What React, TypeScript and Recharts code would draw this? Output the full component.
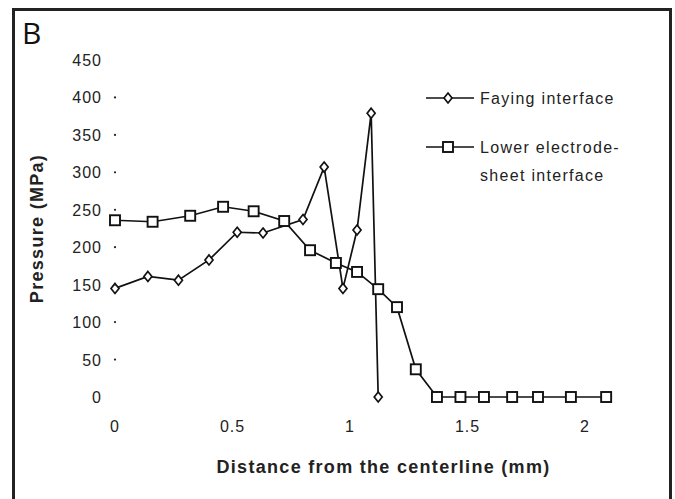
import { Line, LineChart, XAxis, YAxis } from "recharts";

// distance from the centerline (mm) and pressure (MPa)
const fayingX = [0, 0.14, 0.27, 0.4, 0.52, 0.63, 0.8, 0.89, 0.97, 1.03, 1.09, 1.12];
const fayingP = [145, 161, 156, 183, 220, 219, 237, 307, 145, 223, 379, 0];

const lowerX = [0, 0.16, 0.32, 0.46, 0.59, 0.72, 0.83, 0.94, 1.03, 1.12, 1.2, 1.28, 1.37, 1.47, 1.57, 1.69, 1.8, 1.94, 2.09];
const lowerP = [236, 234, 242, 254, 248, 235, 196, 179, 167, 144, 120, 37, 0, 0, 0, 0, 0, 0, 0];

const xTicks = [0, 0.5, 1, 1.5, 2];
const yTicks = [0, 50, 100, 150, 200, 250, 300, 350, 400, 450];

const faying = fayingX.map((x, i) => ({ x, p: fayingP[i] }));
const lower = lowerX.map((x, i) => ({ x, p: lowerP[i] }));

const tickFont = "'Liberation Sans', Arial, sans-serif";

function Diamond(props: any) {
  const { cx, cy } = props;
  if (cx == null || cy == null) return null;
  return <path d={`M${cx},${cy - 5} L${cx + 4},${cy} L${cx},${cy + 5} L${cx - 4},${cy} Z`} fill="#fff" stroke="#111" strokeWidth={1.7} />;
}

function Square(props: any) {
  const { cx, cy } = props;
  if (cx == null || cy == null) return null;
  return <rect x={cx - 5} y={cy - 5} width={10} height={10} fill="#fff" stroke="#111" strokeWidth={1.9} />;
}

function YTick(props: any) {
  const { x, y, payload } = props;
  const v = payload.value;
  return (
    <g>
      <text x={x - 5} y={y + 6} textAnchor="end" fontSize={16} letterSpacing={1} fill="#222" fontFamily={tickFont}>
        {v}
      </text>
      {v > 0 && v < 450 && <circle cx={x + 8} cy={y} r={1.1} fill="#222" />}
    </g>
  );
}

function XTick(props: any) {
  const { x, y, payload } = props;
  return (
    <text x={x} y={y + 27} textAnchor="middle" fontSize={16} letterSpacing={1} fill="#222" fontFamily={tickFont}>
      {payload.value}
    </text>
  );
}

function LegendBox() {
  const txt = { fontSize: 16, letterSpacing: 1.3, fill: "#222", fontFamily: tickFont };
  return (
    <svg width={240} height={100}>
      <line x1={2} y1={10} x2={50} y2={10} stroke="#111" strokeWidth={1.7} />
      <Diamond cx={24} cy={10} />
      <text x={56} y={16} {...txt}>Faying interface</text>
      <line x1={2} y1={59} x2={50} y2={59} stroke="#111" strokeWidth={1.7} />
      <Square cx={24} cy={59} />
      <text x={56} y={65} {...txt}>Lower electrode-</text>
      <text x={56} y={93} {...txt}>sheet interface</text>
    </svg>
  );
}

export default function App() {
  return (
    <div style={{ position: "absolute", left: 0, top: 0, width: 675, height: 499, background: "#fff", overflow: "hidden" }}>
      <div
        style={{
          position: "absolute",
          left: 12,
          top: 8,
          width: 660,
          height: 520,
          border: "3px solid #222",
          boxSizing: "border-box",
        }}
      />
      <div style={{ position: "absolute", left: 22, top: 12, fontSize: 30, fontFamily: "'Open Sans', sans-serif", color: "#111" }}>B</div>
      <div style={{ position: "absolute", left: 424, top: 88 }}>
        <LegendBox />
      </div>
      <div style={{ position: "absolute", left: 0, top: 0 }}>
        <LineChart width={675} height={499} margin={{ top: 60, right: 43, left: 55, bottom: 62 }}>
          <XAxis
            type="number"
            dataKey="x"
            domain={[0, 2.2]}
            ticks={xTicks}
            axisLine={false}
            tickLine={false}
            height={40}
            tick={<XTick />}
            label={{ value: "Distance from the centerline (mm)", position: "insideBottom", offset: -36, dx: 10, fontSize: 18, letterSpacing: 1.3, fontWeight: "bold", fill: "#222", fontFamily: tickFont }}
          />
          <YAxis
            type="number"
            dataKey="p"
            domain={[0, 450]}
            ticks={yTicks}
            axisLine={false}
            tickLine={false}
            width={60}
            tick={<YTick />}
            label={{ value: "Pressure (MPa)", angle: -90, position: "insideLeft", offset: -18, fontSize: 18, letterSpacing: 1.3, fontWeight: "bold", fill: "#222", fontFamily: tickFont, style: { textAnchor: "middle" } }}
          />
          <Line data={faying} dataKey="p" stroke="#111" strokeWidth={1.7} dot={<Diamond />} isAnimationActive={false} />
          <Line data={lower} dataKey="p" stroke="#111" strokeWidth={1.7} dot={<Square />} isAnimationActive={false} />
        </LineChart>
      </div>
    </div>
  );
}
